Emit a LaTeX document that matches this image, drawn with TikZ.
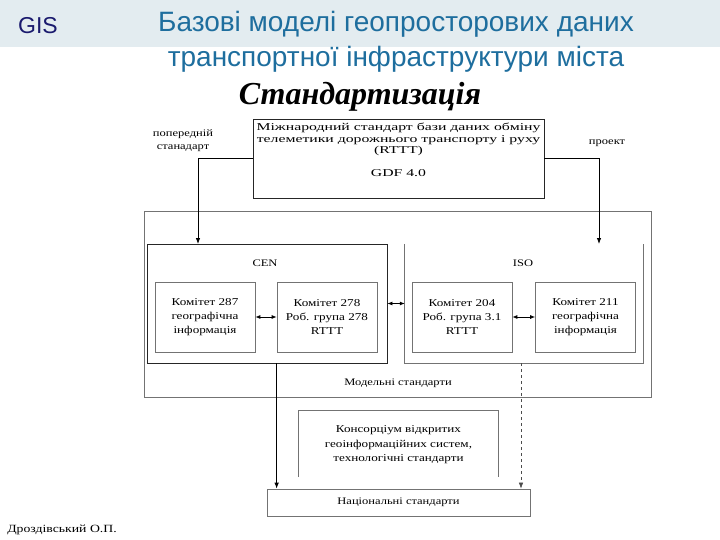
\documentclass[tikz,border=0pt]{standalone}
\usepackage{fontspec}
\setmainfont{Liberation Serif}
\newfontfamily\headfont{Liberation Sans}
\newfontfamily\diagfont[FakeStretch=1.25]{Liberation Serif}
\newfontfamily\widefont[FakeStretch=1.5]{Liberation Serif}
\usepackage{tikz}
\usetikzlibrary{positioning,arrows.meta,calc}

\definecolor{bandgray}{RGB}{227,236,240}
\definecolor{titleblue}{RGB}{30,110,158}
\definecolor{gisnavy}{RGB}{26,26,110}

\begin{document}
\begin{tikzpicture}[x=1pt,y=-1pt,
  every node/.style={font=\diagfont\fontsize{10}{13}\selectfont,inner sep=0pt},
  box/.style={draw=black!85,line width=0.8pt,align=center},
  gbox/.style={draw=black!55,line width=0.7pt,align=center},
  arr/.style={-{Latex[length=6pt,width=4.5pt]},line width=0.8pt},
  darr/.style={{Latex[length=5pt,width=4pt]}-{Latex[length=5pt,width=4pt]},line width=0.8pt}
]
  \useasboundingbox (0,0) rectangle (720,540);
  \fill[bandgray] (0,0) rectangle (720,47);
  \node[font=\headfont\fontsize{23}{26}\selectfont,text=gisnavy] (gis) at (38,26) {GIS};
  \node[font=\headfont\fontsize{28}{35}\selectfont,text=titleblue,align=center] (title) at (396,42)
    {Базові моделі геопросторових даних\\транспортної інфраструктури міста};
  \node[font=\fontsize{32}{34}\selectfont\bfseries\itshape] (stand) at (360,97) {Стандартизація};

  % міжнародний стандарт
  \node[box,minimum width=291,minimum height=79] (gdf) at (398.5,158.5) {};
  \node[align=center,font=\widefont\fontsize{10.5}{11.5}\selectfont] (gdftext) at (398.5,150)
    {Міжнародний стандарт бази даних обміну\\телеметики дорожнього транспорту і руху\\(RTTT)\\[11pt]GDF 4.0};
  \node[align=center] (prev) at (183,141) {попередній\\станадарт};
  \node (proj) at (607,143) {проект};

  % модельні стандарти
  \node[gbox,minimum width=507,minimum height=186] (model) at (397.5,304) {};
  \node (modeltext) at (398,383) {Модельні стандарти};

  \node[box,minimum width=240,minimum height=119] (cen) at (267,303.5) {};
  \node (centext) at (265,263) {CEN};
  \node[minimum width=238,minimum height=119] (iso) at (524,303.5) {};
  \draw[black!55,line width=0.7pt] (iso.north west) -- (iso.south west) -- (iso.south east) -- (iso.north east);
  \node (isotext) at (523,263) {ISO};

  \node[gbox,minimum width=100,minimum height=70,font=\diagfont\fontsize{10.5}{14}\selectfont] (k287) at (205,317)
    {Комітет 287\\географічна\\інформація};
  \node[gbox,minimum width=100,minimum height=70,font=\diagfont\fontsize{10.5}{14}\selectfont] (k278) at (327,317)
    {Комітет 278\\Роб. група 278\\RTTT};
  \node[gbox,minimum width=100,minimum height=70,font=\diagfont\fontsize{10.5}{14}\selectfont] (k204) at (462,317)
    {Комітет 204\\Роб. група 3.1\\RTTT};
  \node[gbox,minimum width=100,minimum height=70,font=\diagfont\fontsize{10.5}{14}\selectfont] (k211) at (585.5,317)
    {Комітет 211\\географічна\\інформація};

  % консорціум і національні
  \node[minimum width=199,minimum height=66] (ogc) at (398.5,444) {};
  \draw[black!55,line width=0.7pt] (ogc.south west) -- (ogc.north west) -- (ogc.north east) -- (ogc.south east);
  \node[align=center,font=\diagfont\fontsize{10.5}{14.5}\selectfont] (ogctext) at (398.5,445)
    {Консорціум відкритих\\геоінформаційних систем,\\технологічні стандарти};
  \node[gbox,minimum width=263,minimum height=27] (nat) at (398.5,502.5) {Національні стандарти};

  \coordinate (cenin) at (198,244);
  \coordinate (isoin) at (599,244);
  \draw[arr] (gdf.west) -| (cenin);
  \draw[arr] (gdf.east) -| (isoin);
  \draw[darr] (k287) -- (k278);
  \draw[darr] (k204) -- (k211);
  \draw[darr] (cen.east) -- (iso.west);
  \draw[arr] (cen.south -| k278.west) -- (nat.north -| k278.west);
  \draw[arr,dashed,black!70,line width=0.6pt] (iso.south -| 521,0) -- (nat.north -| 521,0);

  \node[font=\diagfont\fontsize{11}{12}\selectfont] (author) at (62,530) {Дроздівський О.П.};
\end{tikzpicture}
\end{document}
